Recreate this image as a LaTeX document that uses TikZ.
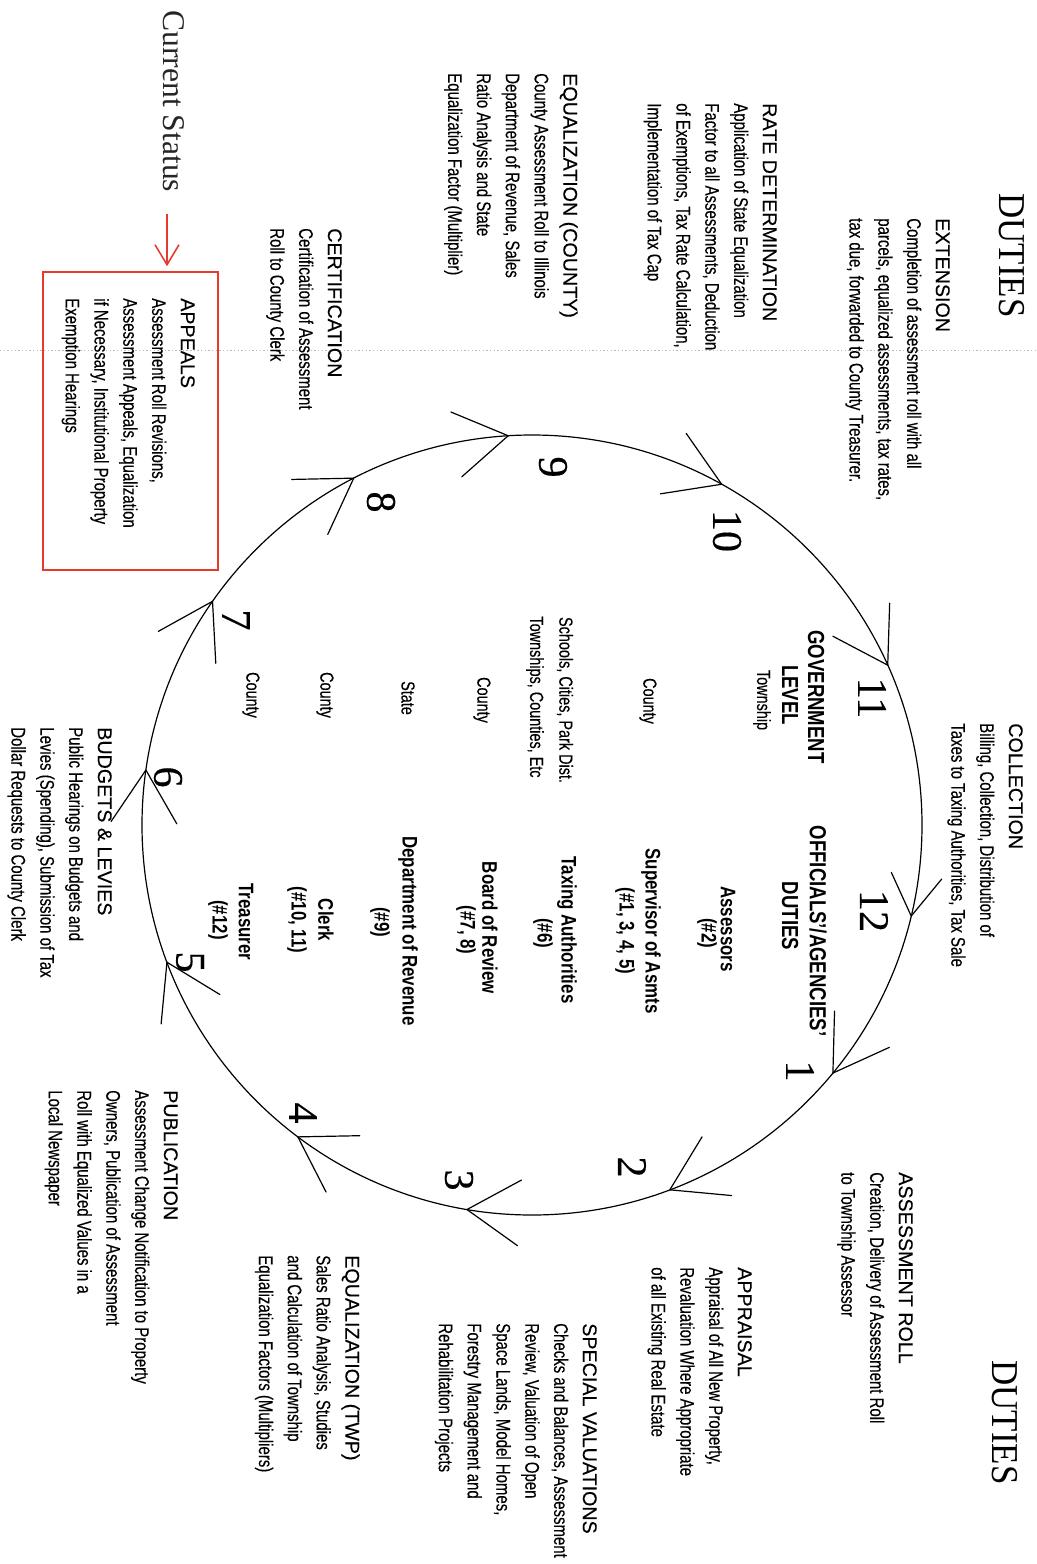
\documentclass[tikz,border=0pt]{standalone}
\usepackage{fontspec}
\usetikzlibrary{arrows.meta}
\setmainfont{Liberation Serif}
\newfontfamily\bodyf{Liberation Sans}[FakeStretch=0.76,FakeBold=0.25]
\newfontfamily\headf{Liberation Sans}[FakeBold=0.2]
\newfontfamily\offf{Liberation Sans}[FakeStretch=0.8]
\newfontfamily\numf{Liberation Serif}[FakeBold=0.3]
\newfontfamily\dutf{Liberation Serif}[FakeStretch=0.92]
\definecolor{markred}{RGB}{232,58,44}
\begin{document}
\begin{tikzpicture}[x=0.025cm,y=-0.025cm,
  blk/.style={rotate=-90, anchor=north west, align=left, inner sep=0pt,
    font=\bodyf\fontsize{14}{20.5}\selectfont},
  lab/.style={rotate=-90, inner sep=0pt, font=\bodyf\fontsize{13.5}{16}\selectfont},
  offl/.style={rotate=-90, inner sep=0pt, font=\offf\bfseries\fontsize{15}{18}\selectfont},
  offh/.style={rotate=-90, inner sep=0pt, font=\offf\bfseries\fontsize{16.5}{20}\selectfont},
  num/.style={rotate=-90, inner sep=0pt, font=\numf\fontsize{30}{32}\selectfont},
  dut/.style={rotate=-90, anchor=north west, inner sep=0pt, font=\dutf\fontsize{27}{30}\selectfont},
  arm/.style={line width=0.85pt, line cap=round},
  ring/.style={line width=0.85pt}]
\useasboundingbox (0,0) rectangle (1037,1564);

% faint scan fold line
\coordinate (fl) at (0,350);
\coordinate (fr) at (1037,350);
\draw[gray!55, line width=0.4pt, dash pattern=on 1pt off 1.6pt] (fl) -- (fr);

% the cycle
\coordinate (C) at (532,825);
\draw[ring] (C) circle[radius=390];
\foreach \a/\n/\l in {-60.9/10/62,-24.2/11/62,13.5/12/48,39.5/1/62,69.3/2/62,99.6/3/62,126.9/4/62,159.4/5/62,188.1/6/62,215/7/62,242.8/8/62,266.5/9/62}{
  \path (C) ++(\a:390) coordinate (t\n);
  \draw[arm] (t\n) -- ++(\a-96+32:\l);
  \draw[arm] (t\n) -- ++(\a-96-32:\l);
}

% step numbers
\node[num] (n10) at (727,531) {10};
\node[num] (n11) at (872,698) {11};
\node[num] (n12) at (874,911) {12};
\node[num] (n1) at (800,1071) {1};
\node[num] (n2) at (632,1167) {2};
\node[num] (n3) at (459,1180) {3};
\node[num] (n4) at (303,1113) {4};
\node[num] (n5) at (190,962) {5};
\node[num] (n6) at (168,777) {6};
\node[num] (n7) at (236,620) {7};
\node[num] (n8) at (381,502) {8};
\node[num] (n9) at (553,467) {9};

% DUTIES titles
\node[dut] (dut1) at (1025,193) {DUTIES};
\node[dut] (dut2) at (1018,1360) {DUTIES};

% duty blocks
\node[blk] (ext) at (950,218) {{\headf EXTENSION}\\Completion of assessment roll with all\\parcels, equalized assessments, tax rates,\\tax due, forwarded to County Treasurer.};
\node[blk] (rate) at (777,103) {{\headf RATE DETERMINATION}\\Application of State Equalization\\Factor to all Assessments, Deduction\\of Exemptions, Tax Rate Calculation,\\Implementation of Tax Cap};
\node[blk] (eqc) at (578,73) {{\headf EQUALIZATION (COUNTY)}\\County Assessment Roll to Illinois\\Department of Revenue, Sales\\Ratio Analysis and State\\Equalization Factor (Multiplier)};
\node[blk] (cert) at (342,228) {{\headf CERTIFICATION}\\Certification of Assessment\\Roll to County Clerk};
\node[blk] (app) at (195,298) {{\headf APPEALS}\\Assessment Roll Revisions,\\Assessment Appeals, Equalization\\if Necessary, Institutional Property\\Exemption Hearings};
\node[blk] (coll) at (1023,723) {{\headf COLLECTION}\\Billing, Collection, Distribution of\\Taxes to Taxing Authorities, Tax Sale};
\node[blk] (aroll) at (913,1172) {{\headf ASSESSMENT ROLL}\\Creation, Delivery of Assessment Roll\\to Township Assessor};
\node[blk] (appr) at (752,1267) {{\headf APPRAISAL}\\Appraisal of All New Property,\\Revaluation Where Appropriate\\of all Existing Real Estate};
\node[blk] (spec) at (597,1323) {{\headf SPECIAL VALUATIONS}\\Checks and Balances, Assessment\\Review, Valuation of Open\\Space Lands, Model Homes,\\Forestry Management and\\Rehabilitation Projects};
\node[blk] (eqt) at (360,1255) {{\headf EQUALIZATION (TWP)}\\Sales Ratio Analysis, Studies\\and Calculation of Township\\Equalization Factors (Multipliers)};
\node[blk] (pub) at (178,1090) {{\headf PUBLICATION}\\Assessment Change Notification to Property\\Owners, Publication of Assessment\\Roll with Equalized Values in a\\Local Newspaper};
\node[blk] (bud) at (112,727) {{\headf BUDGETS \& LEVIES}\\Public Hearings on Budgets and\\Levies (Spending), Submission of Tax\\Dollar Requests to County Clerk};

% centre table: government level
\node[offh] (gov1) at (816,697) {GOVERNMENT};
\node[offh] (gov2) at (790,695) {LEVEL};
\node[lab] (g1) at (762,700) {Township};
\node[lab] (g2) at (648,701) {County};
\node[lab] (g3a) at (565,700) {Schools, Cities, Park Dist.};
\node[lab] (g3b) at (535,697) {Townships, Counties, Etc};
\node[lab] (g4) at (482,700) {County};
\node[lab] (g5) at (408,698) {State};
\node[lab] (g6) at (325,695) {County};
\node[lab] (g7) at (251,695) {County};

% centre table: officials
\node[offh] (off1) at (818,931) {OFFICIALS’/AGENCIES’};
\node[offh] (off2) at (790,916) {DUTIES};
\node[offl] (o1a) at (728,929) {Assessors};
\node[offl] (o1b) at (707,933) {(\#2)};
\node[offl] (o2a) at (651,931) {Supervisor of Asmts};
\node[offl] (o2b) at (625,931) {(\#1, 3, 4, 5)};
\node[offl] (o3a) at (567,930) {Taxing Authorities};
\node[offl] (o3b) at (543,933) {(\#6)};
\node[offl] (o4a) at (490,928) {Board of Review};
\node[offl] (o4b) at (466,930) {(\#7, 8)};
\node[offl] (o5a) at (408,931) {Department of Revenue};
\node[offl] (o5b) at (380,922) {(\#9)};
\node[offl] (o6a) at (326,920) {Clerk};
\node[offl] (o6b) at (297,920) {(\#10, 11)};
\node[offl] (o7a) at (246,922) {Treasurer};
\node[offl] (o7b) at (218,920) {(\#12)};

% current status marker
\node[rotate=-90, anchor=north west, inner sep=0pt, text=black!85,
  font=\rmfamily\fontsize{22.5}{26}\selectfont] (status) at (185,10) {Current Status};
\node[draw=markred, line width=1.3pt, minimum width=4.375cm, minimum height=7.45cm,
  inner sep=0pt] (box) at (130.5,421) {};
\coordinate (cs) at (167,214);
\draw[markred, line width=1.1pt, -{Straight Barb[length=5mm,width=6mm]}, shorten >=1.2mm]
  (cs) -- (box.north -| cs);
\end{tikzpicture}
\end{document}
